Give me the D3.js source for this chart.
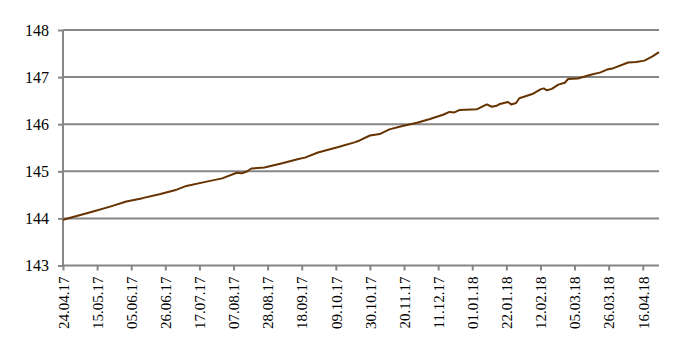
<!DOCTYPE html>
<html><head><meta charset="utf-8">
<script src="https://cdn.jsdelivr.net/npm/d3@7"></script>
<style>body{margin:0;background:#fff;} svg{display:block;}</style>
</head><body>
<svg id="c" width="675" height="353"></svg>
<script>
const dates = ["2017-04-24","2017-05-12","2017-05-23","2017-06-02","2017-06-12","2017-06-23","2017-07-03","2017-07-09","2017-07-20","2017-07-31","2017-08-09","2017-08-12","2017-08-15","2017-08-18","2017-08-26","2017-09-06","2017-09-16","2017-09-20","2017-09-28","2017-10-10","2017-10-21","2017-10-24","2017-10-30","2017-11-05","2017-11-11","2017-11-19","2017-11-28","2017-12-06","2017-12-14","2017-12-18","2017-12-21","2017-12-24","2018-01-04","2018-01-10","2018-01-13","2018-01-16","2018-01-18","2018-01-23","2018-01-25","2018-01-28","2018-01-30","2018-02-07","2018-02-12","2018-02-14","2018-02-16","2018-02-19","2018-02-23","2018-02-27","2018-03-01","2018-03-07","2018-03-15","2018-03-21","2018-03-25","2018-03-29","2018-04-07","2018-04-12","2018-04-17","2018-04-22","2018-04-26"];
const values = [143.97,144.14,144.25,144.36,144.43,144.52,144.61,144.69,144.77,144.85,144.97,144.96,144.99,145.06,145.08,145.17,145.26,145.29,145.40,145.51,145.62,145.66,145.76,145.79,145.89,145.96,146.03,146.11,146.20,146.26,146.25,146.30,146.32,146.42,146.37,146.39,146.43,146.47,146.42,146.45,146.55,146.64,146.74,146.76,146.72,146.75,146.84,146.88,146.96,146.97,147.05,147.10,147.16,147.19,147.31,147.32,147.35,147.44,147.53];
const yTicks = [143,144,145,146,147,148];
const xTickStart = "2017-04-24";
const xTickStepDays = 21;
const xTickCount = 18;

const parse = d3.timeParse("%Y-%m-%d");
const fmt = d3.timeFormat("%d.%m.%y");
const data = dates.map((d,i)=>({date:parse(d), value:values[i]}));
const xTickVals = d3.range(xTickCount).map(i=>d3.timeDay.offset(parse(xTickStart), i*xTickStepDays));

const L=63, R=659, T=30, B=265.5;
const x = d3.scaleTime().domain([parse(xTickStart), parse("2018-04-26")]).range([L,R]);
const y = d3.scaleLinear().domain([143,148]).range([B,T]);

const svg = d3.select("#c");
const grid = "#868686";

// gridlines
svg.append("g").selectAll("line").data(yTicks.filter(v=>v>143)).join("line")
  .attr("x1",L).attr("x2",R).attr("y1",d=>y(d)).attr("y2",d=>y(d))
  .attr("stroke",grid).attr("stroke-width",2);

// y axis
const ya = svg.append("g").attr("transform",`translate(${L},0)`)
  .call(d3.axisLeft(y).tickValues(yTicks).tickSize(5).tickPadding(9).tickFormat(d3.format("d")));
ya.select(".domain").attr("stroke",grid).attr("stroke-width",2).attr("d",`M0,${T}V${B}`);
ya.selectAll(".tick line").attr("stroke",grid).attr("stroke-width",2);
ya.selectAll("text").attr("font-family","'Liberation Serif', 'Times New Roman', serif").attr("font-size",16).attr("fill","#000");

// x axis
const xa = svg.append("g").attr("transform",`translate(0,${B})`)
  .call(d3.axisBottom(x).tickValues(xTickVals).tickSize(5).tickFormat(fmt));
xa.select(".domain").attr("stroke",grid).attr("stroke-width",2).attr("d",`M${L},0H${R}`);
xa.selectAll(".tick line").attr("stroke",grid).attr("stroke-width",2);
xa.selectAll("text")
  .attr("font-family","'Liberation Serif', 'Times New Roman', serif").attr("font-size",15).attr("fill","#000")
  .attr("transform","rotate(-90)").attr("text-anchor","end").attr("x",-11).attr("y",0).attr("dy","0.35em");

// line
svg.append("path").datum(data)
  .attr("fill","none").attr("stroke","#663300").attr("stroke-width",2)
  .attr("stroke-linejoin","round")
  .attr("d", d3.line().x(d=>x(d.date)).y(d=>y(d.value)));
</script>
</body></html>
